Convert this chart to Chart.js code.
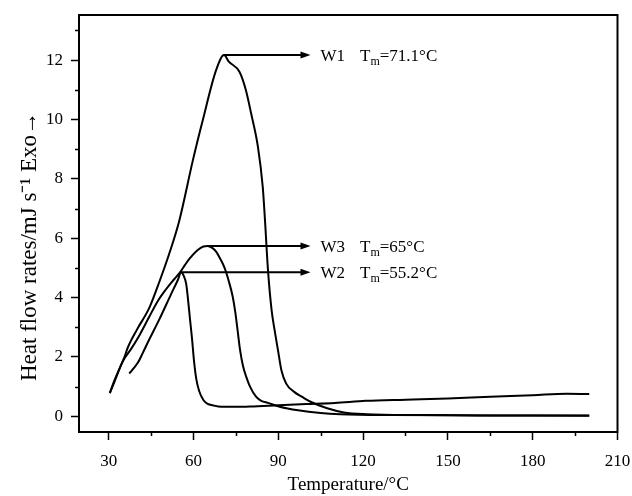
<!DOCTYPE html>
<html>
<head>
<meta charset="utf-8">
<script src="https://cdn.jsdelivr.net/npm/chart.js@4.4.0/dist/chart.umd.min.js"></script>
<style>
  html, body { margin: 0; padding: 0; background: #fff; }
</style>
</head>
<body>
<canvas id="dsc-chart" width="632" height="496"></canvas>
<script>
// DSC curves (temperature in °C, heat flow in mJ/s)
const w1Temp = [30.4, 32.0, 34.0, 35.6, 36.7, 40.0, 44.4, 48.0, 51.5, 55.0, 59.8, 63.3, 68.0, 70.8, 72.5, 76.3, 78.5, 80.4, 82.8, 84.5, 85.3, 86.3, 87.6, 88.7, 89.9, 91.1, 92.8, 95.5, 98.5, 101.4, 107.3, 113.2, 121.2, 140.0, 170.0, 200.0];
const w1Heat = [0.78, 1.20, 1.65, 2.00, 2.30, 2.92, 3.66, 4.55, 5.50, 6.60, 8.63, 9.98, 11.66, 12.17, 11.95, 11.60, 11.00, 10.20, 9.08, 7.73, 6.60, 5.00, 3.60, 2.90, 2.22, 1.55, 1.10, 0.83, 0.65, 0.49, 0.27, 0.13, 0.07, 0.04, 0.03, 0.03];

const w2Temp = [37.3, 38.5, 40.3, 42.0, 44.0, 48.0, 52.0, 54.5, 55.6, 56.6, 57.4, 58.0, 58.8, 59.5, 60.2, 61.0, 62.0, 63.5, 65.0, 66.8, 69.8, 75.0, 80.0, 90.0, 100.0, 110.0, 121.0, 135.0, 150.0, 165.0, 180.0, 192.0, 200.0];
const w2Heat = [1.44, 1.58, 1.80, 2.12, 2.52, 3.28, 4.10, 4.60, 4.85, 4.72, 4.47, 4.00, 3.24, 2.60, 1.85, 1.25, 0.85, 0.55, 0.42, 0.37, 0.32, 0.32, 0.33, 0.37, 0.41, 0.45, 0.52, 0.56, 0.60, 0.66, 0.71, 0.76, 0.75];

const w3Temp = [30.4, 32.0, 35.0, 38.0, 41.0, 44.4, 47.5, 50.3, 53.0, 55.3, 57.0, 58.6, 61.5, 63.5, 65.0, 66.5, 68.0, 69.5, 71.0, 72.5, 73.9, 74.8, 75.6, 76.5, 77.5, 78.7, 80.0, 82.2, 84.0, 86.3, 90.5, 97.0, 105.0, 112.0, 130.0, 160.0, 200.0];
const w3Heat = [0.78, 1.15, 1.85, 2.28, 2.75, 3.36, 3.90, 4.28, 4.60, 4.86, 5.10, 5.31, 5.60, 5.72, 5.74, 5.68, 5.55, 5.30, 5.00, 4.55, 4.02, 3.50, 2.90, 2.22, 1.70, 1.32, 1.00, 0.65, 0.52, 0.45, 0.32, 0.20, 0.11, 0.07, 0.04, 0.03, 0.02];

// axis ticks
const xMajorTicks = [30, 60, 90, 120, 150, 180, 210];
const xMinorTicks = [45, 75, 105, 135, 165, 195];
const yMajorTicks = [0, 2, 4, 6, 8, 10, 12];
const yMinorTicks = [1, 3, 5, 7, 9, 11, 13];

// peak labels with arrows
const peakNames = ['W1', 'W3', 'W2'];
const peakTm = ['71.1', '65', '55.2'];
const peakTemp = [70.8, 65.0, 55.6];
const peakHeat = [12.17, 5.74, 4.85];
const arrowEndTemp = 101.4;

const serif = "'Liberation Serif', 'Times New Roman', serif";

function toPoints(xs, ys) {
    return xs.map((x, i) => ({x: x, y: ys[i]}));
}

function curve(label, xs, ys) {
    return {
        label: label,
        data: toPoints(xs, ys),
        borderColor: '#000',
        borderWidth: 2,
        pointRadius: 0,
        fill: false,
        cubicInterpolationMode: 'monotone'
    };
}

const frameAndLabels = {
    id: 'frameAndLabels',
    afterDatasetsDraw(chart) {
        const ctx = chart.ctx;
        const area = chart.chartArea;
        const xs = chart.scales.x;
        const ys = chart.scales.y;
        ctx.save();
        ctx.strokeStyle = '#000';
        ctx.fillStyle = '#000';

        // box round the plot
        ctx.lineWidth = 2;
        ctx.strokeRect(area.left, area.top, area.right - area.left, area.bottom - area.top);

        // short minor ticks
        ctx.lineWidth = 1.5;
        ctx.beginPath();
        xMinorTicks.forEach(v => {
            const px = Math.round(xs.getPixelForValue(v)) + 0.5;
            ctx.moveTo(px, area.bottom);
            ctx.lineTo(px, area.bottom + 4);
        });
        yMinorTicks.forEach(v => {
            const py = Math.round(ys.getPixelForValue(v)) + 0.5;
            ctx.moveTo(area.left - 4, py);
            ctx.lineTo(area.left, py);
        });
        ctx.stroke();

        // arrows and Tm labels
        peakNames.forEach((name, i) => {
            const x0 = xs.getPixelForValue(peakTemp[i]);
            const x1 = xs.getPixelForValue(arrowEndTemp);
            const y = ys.getPixelForValue(peakHeat[i]);
            ctx.lineWidth = 2;
            ctx.beginPath();
            ctx.moveTo(x0, y);
            ctx.lineTo(x1 - 6, y);
            ctx.stroke();
            ctx.beginPath();
            ctx.moveTo(x1, y);
            ctx.lineTo(x1 - 10, y - 3.5);
            ctx.lineTo(x1 - 10, y + 3.5);
            ctx.closePath();
            ctx.fill();

            let tx = x1 + 10;
            ctx.textBaseline = 'alphabetic';
            ctx.textAlign = 'left';
            ctx.font = '17px ' + serif;
            ctx.fillText(name, tx, y + 6);
            tx += ctx.measureText(name).width + 15;
            ctx.fillText('T', tx, y + 6);
            tx += ctx.measureText('T').width;
            ctx.font = '12px ' + serif;
            ctx.fillText('m', tx, y + 10);
            tx += ctx.measureText('m').width;
            ctx.font = '17px ' + serif;
            ctx.fillText('=' + peakTm[i] + '°C', tx, y + 6);
        });
        ctx.restore();
    }
};

new Chart(document.getElementById('dsc-chart'), {
    type: 'line',
    data: {
        datasets: [
            curve('W1', w1Temp, w1Heat),
            curve('W2', w2Temp, w2Heat),
            curve('W3', w3Temp, w3Heat)
        ]
    },
    options: {
        responsive: false,
        animation: false,
        layout: {
            padding: {top: 15, right: 14.5, bottom: 0, left: 0}
        },
        plugins: {
            legend: {display: false},
            tooltip: {enabled: false}
        },
        scales: {
            x: {
                type: 'linear',
                min: 19.5,
                max: 210,
                afterBuildTicks: scale => {
                    scale.ticks = xMajorTicks.map(v => ({value: v}));
                },
                afterFit: scale => {
                    scale.height = 64;
                    scale.paddingLeft = 0;
                    scale.paddingRight = 0;
                },
                ticks: {
                    color: '#000',
                    padding: 11,
                    maxRotation: 0,
                    font: {family: serif, size: 17}
                },
                grid: {
                    drawOnChartArea: false,
                    tickLength: 8,
                    tickColor: '#000',
                    tickWidth: 1.5
                },
                border: {color: '#000', width: 2},
                title: {
                    display: true,
                    text: 'Temperature/°C',
                    color: '#000',
                    padding: {top: 0, bottom: 0},
                    font: {family: serif, size: 19}
                }
            },
            y: {
                type: 'linear',
                min: -0.53,
                max: 13.52,
                afterBuildTicks: scale => {
                    scale.ticks = yMajorTicks.map(v => ({value: v}));
                },
                afterFit: scale => {
                    scale.width = 79;
                    scale.paddingTop = 0;
                    scale.paddingBottom = 0;
                },
                ticks: {
                    color: '#000',
                    padding: 8,
                    font: {family: serif, size: 17}
                },
                grid: {
                    drawOnChartArea: false,
                    tickLength: 8,
                    tickColor: '#000',
                    tickWidth: 1.5
                },
                border: {color: '#000', width: 2},
                title: {
                    display: true,
                    // two em spaces at the end push the centred text down a little
                    text: 'Heat flow rates/mJ s\u207B\u00B9 Exo\u2192\u2003\u2003',
                    color: '#000',
                    padding: {top: 16, bottom: 0},
                    font: {family: serif, size: 23}
                }
            }
        }
    },
    plugins: [frameAndLabels]
});
</script>
</body>
</html>
